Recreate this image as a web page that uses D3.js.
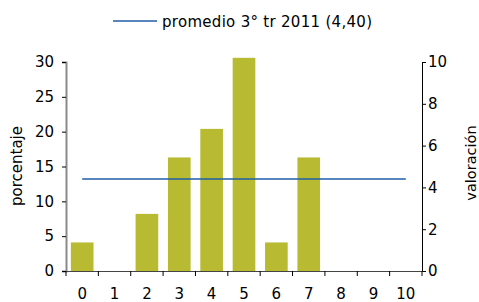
<!DOCTYPE html>
<html><head><meta charset="utf-8">
<script src="https://cdn.jsdelivr.net/npm/d3@7"></script>
<style>body{margin:0;background:#fff}svg{display:block;font-family:"DejaVu Sans",Verdana,sans-serif}</style>
</head><body><svg id="c" width="479" height="302"></svg>
<script>
const categories = ["0","1","2","3","4","5","6","7","8","9","10"];
const porcentaje = [4.1,0,8.2,16.3,20.4,30.6,4.1,16.3,0,0,0];
const promedio = 4.40;
const leftTicks = [0,5,10,15,20,25,30];
const rightTicks = [0,2,4,6,8,10];
const legendLabel = "promedio 3° tr 2011 (4,40)";

const svg = d3.select("#c");
const L=66, R=422, T=62, B=271;
const FS = 15;
const x = d3.scaleBand().domain(categories).range([L,R]).paddingInner(0.3).paddingOuter(0.15);
const y = d3.scaleLinear().domain([0,30]).range([B,T]);
const y2 = d3.scaleLinear().domain([0,10]).range([B,T]);
const step = x.step();

// bars
svg.append("g").selectAll("rect").data(categories).join("rect")
  .attr("x",d=>x(d)).attr("width",x.bandwidth())
  .attr("y",(d,i)=>y(porcentaje[i])).attr("height",(d,i)=>B-y(porcentaje[i]))
  .attr("fill","#b8bb32");

// line
svg.append("line").attr("x1",x(categories[0])+x.bandwidth()/2).attr("x2",x(categories[10])+x.bandwidth()/2)
  .attr("y1",y2(promedio)).attr("y2",y2(promedio)).attr("stroke","#1f5ea8").attr("stroke-width",1.6);

// left axis
const la = svg.append("g").attr("transform",`translate(${L},0)`).call(d3.axisLeft(y).tickValues(leftTicks).tickSize(4).tickPadding(8));
la.select(".domain").attr("stroke","#8a8a8a").attr("stroke-width",2);
la.selectAll("text").attr("font-size",FS).attr("fill","#000").attr("font-family","DejaVu Sans");

// right axis
const ra = svg.append("g").attr("transform",`translate(${R},0)`).call(d3.axisRight(y2).tickValues(rightTicks).tickSize(4).tickPadding(2));
ra.selectAll("text").attr("font-size",FS).attr("fill","#000").attr("font-family","DejaVu Sans");

// bottom axis: labels at centers, ticks at boundaries
const ba = svg.append("g").attr("transform",`translate(0,${B})`).call(d3.axisBottom(x).tickSize(0).tickPadding(17));
ba.select(".domain").attr("stroke","#444").attr("stroke-width",1.2);
ba.selectAll("text").attr("font-size",FS).attr("fill","#000").attr("font-family","DejaVu Sans");
const bounds = d3.range(categories.length+1).map(i=>L+i*step);
svg.append("g").selectAll("line").data(bounds).join("line")
  .attr("x1",d=>d).attr("x2",d=>d).attr("y1",B).attr("y2",B+5).attr("stroke","#000");

// axis titles
svg.append("text").attr("transform",`translate(22,166) rotate(-90)`).attr("text-anchor","middle")
  .attr("font-size",FS).text("porcentaje");
svg.append("text").attr("transform",`translate(476,163) rotate(-90)`).attr("text-anchor","middle")
  .attr("font-size",14.5).text("valoración");

// legend
svg.append("line").attr("x1",113).attr("x2",157).attr("y1",21).attr("y2",21).attr("stroke","#1f5ea8").attr("stroke-width",1.6);
svg.append("text").attr("x",162).attr("y",27).attr("font-size",FS)
  .attr("textLength",210).attr("lengthAdjust","spacing").text(legendLabel);
</script></body></html>
